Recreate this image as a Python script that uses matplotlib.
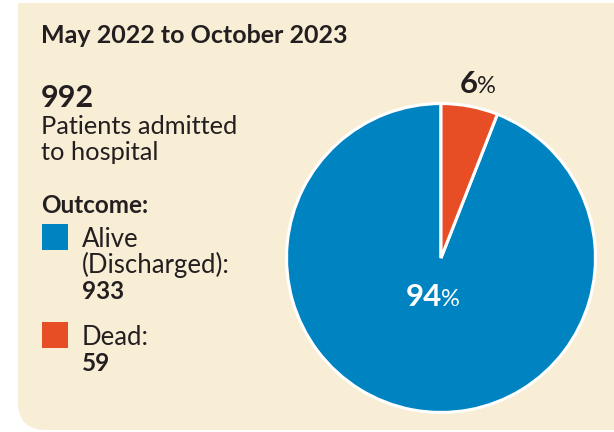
import matplotlib.pyplot as plt
from matplotlib.patches import FancyBboxPatch, Rectangle

# data
labels = ["Alive", "Dead:"]
sublabels = ["(Discharged):", None]
counts = [933, 59]
colors = ["#0083c1", "#e84e25"]
total = 992
title = "May 2022 to October 2023"

W, H = 614, 432
bg = "#f8eed5"
ink = "#231f20"

plt.rcParams['font.family'] = ['Lato', 'DejaVu Sans']

fig = plt.figure(figsize=(W / 100, H / 100), dpi=100)
fig.patch.set_facecolor("white")


def fx(x):
    return x / W


def fy(y):
    return 1 - y / H


def txt(x, y, s, **kw):
    # x, y in pixels from top-left, y is the baseline
    kw.setdefault("color", ink)
    return fig.text(fx(x), fy(y), s, va="baseline", **kw)


# cream panel, only bottom-left corner rounded
r = 28
fig.patches.append(FancyBboxPatch((fx(18), fy(430)), fx(700), fy(3) - fy(430),
                                  boxstyle=f"round,pad=0,rounding_size={r / W}",
                                  transform=fig.transFigure, facecolor=bg,
                                  edgecolor="none", mutation_aspect=W / H, zorder=-2))
fig.patches.append(Rectangle((fx(18), fy(200)), fx(700), fy(3) - fy(200),
                             transform=fig.transFigure, facecolor=bg, edgecolor="none",
                             zorder=-2))

# left text block
txt(41, 43, title, fontsize=18, fontweight="bold")
txt(41, 107, str(total), fontsize=22, fontweight="bold")
txt(41, 134, "Patients admitted", fontsize=18.3)
txt(41, 160, "to hospital", fontsize=18.3)
txt(41, 213, "Outcome:", fontsize=17.5, fontweight="bold")

sq_top = [224, 322]
for lab, sub, c, col, y in zip(labels, sublabels, counts, colors, sq_top):
    fig.patches.append(Rectangle((fx(42), fy(y + 26)), fx(26), fy(y) - fy(y + 26),
                                 transform=fig.transFigure, facecolor=col,
                                 edgecolor="none", zorder=-1))
    b = y + 23
    txt(82, b, lab, fontsize=18.5)
    if sub:
        b += 26
        txt(82, b, sub, fontsize=18.5)
    txt(82, b + 26, str(c), fontsize=17.5, fontweight="bold")

# pie
cx, cy, rad = 441, 258, 156
ax = fig.add_axes([fx(cx - rad), fy(cy + rad), fx(2 * rad), fy(cy - rad) - fy(cy + rad)])
ax.pie(counts, colors=colors, startangle=90, counterclock=True,
       wedgeprops=dict(edgecolor="white", linewidth=2.2))
ax.set_aspect("equal")
ax.set_xlim(-1.01, 1.01)
ax.set_ylim(-1.01, 1.01)
ax.axis("off")

pcts = [round(c / total * 100) for c in counts]
# 94% inside the blue slice
txt(442, 306, f"{pcts[0]}", fontsize=22.5, fontweight="bold", color="white", ha="right")
txt(441, 306, "%", fontsize=17, color="white", ha="left")
# 6% above the orange slice
txt(478, 93, f"{pcts[1]}", fontsize=22.5, fontweight="bold", ha="right")
txt(477, 93, "%", fontsize=17, ha="left")

fig.savefig("out.png", dpi=100, facecolor="white")
